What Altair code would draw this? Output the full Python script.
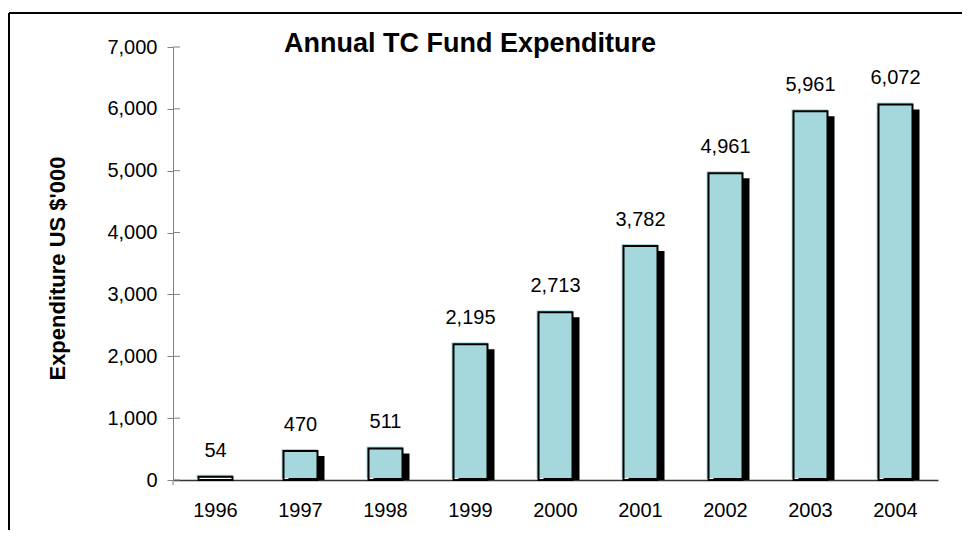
import altair as alt
import pandas as pd

years = ["1996", "1997", "1998", "1999", "2000", "2001", "2002", "2003", "2004"]
values = [54, 470, 511, 2195, 2713, 3782, 4961, 5961, 6072]
y_ticks = [0, 1000, 2000, 3000, 4000, 5000, 6000, 7000]
title_text = "Annual TC Fund Expenditure"
y_title = "Expenditure US $'000"

df = pd.DataFrame({"year": years, "value": values})
tick_df = pd.DataFrame({"tick": y_ticks})
one = pd.DataFrame({"a": [0]})

FONT = "Liberation Sans"
CYAN = "#A5D8DC"
W, H = 765, 433
yscale = alt.Scale(domain=[0, 7000], nice=False)

xenc = alt.X(
    "year:N",
    sort=years,
    title=None,
    scale=alt.Scale(paddingInner=0, paddingOuter=0),
    axis=alt.Axis(labelAngle=0, labelFontSize=20, labelColor="black", labelPadding=20,
                  ticks=False, domainColor="#333333", domainWidth=1.5, labelFont=FONT,
                  grid=False),
)
yaxis = alt.Axis(values=y_ticks, format=",.0f", labelFontSize=20, labelColor="black",
                 labelPadding=10, tickSize=6, tickColor="#808080", domainColor="#808080",
                 grid=False, titleFontSize=22, titleFontWeight="bold", titleFont=FONT,
                 titleColor="black", titleX=-116, titleY=221, titleAlign="center",
                 titleBaseline="middle", labelFont=FONT)
yenc = alt.Y("value:Q", scale=yscale, title=y_title, axis=yaxis)

base = alt.Chart(df).encode(x=xenc, y=yenc)

shadow = base.mark_bar(color="black", size=36, xOffset=6, yOffset=5, clip=True)
front = base.mark_bar(color=CYAN, size=36, xOffset=-1, yOffset=-2)
outline = base.mark_bar(fillOpacity=0, stroke="black", strokeWidth=2, size=34)
labels = base.mark_text(fontSize=20, font=FONT, color="black", dy=-20, baseline="alphabetic").encode(
    text=alt.Text("value:Q", format=",")
)

inner_ticks = alt.Chart(tick_df).mark_rule(color="#808080").encode(
    y=alt.Y("tick:Q", scale=yscale, title=y_title, axis=yaxis), x=alt.value(0), x2=alt.value(7)
)
ydom_ext = alt.Chart(one).mark_rule(color="#808080").encode(
    x=alt.value(0), y=alt.value(H), y2=alt.value(H + 5)
)
border_top = alt.Chart(one).mark_rule(color="black", strokeWidth=2).encode(
    x=alt.value(-164), x2=alt.value(820), y=alt.value(-34)
)
border_left = alt.Chart(one).mark_rule(color="black", strokeWidth=2).encode(
    x=alt.value(-164), y=alt.value(-34), y2=alt.value(520)
)
title = alt.Chart(pd.DataFrame({"t": [title_text]})).mark_text(
    font=FONT, fontSize=27, fontWeight="bold", color="black", baseline="alphabetic", align="center"
).encode(text="t:N", x=alt.value(297), y=alt.value(5))

chart = alt.layer(
    shadow, front, outline, labels, inner_ticks, ydom_ext, border_top, border_left, title
).properties(
    width=W,
    height=H,
    autosize=alt.AutoSizeParams(type="none"),
    padding={"left": 165, "top": 39, "right": 24, "bottom": 50},
).configure(font=FONT).configure_view(stroke=None)

chart.save("out.html", embed_options={"renderer": "svg", "actions": False})
